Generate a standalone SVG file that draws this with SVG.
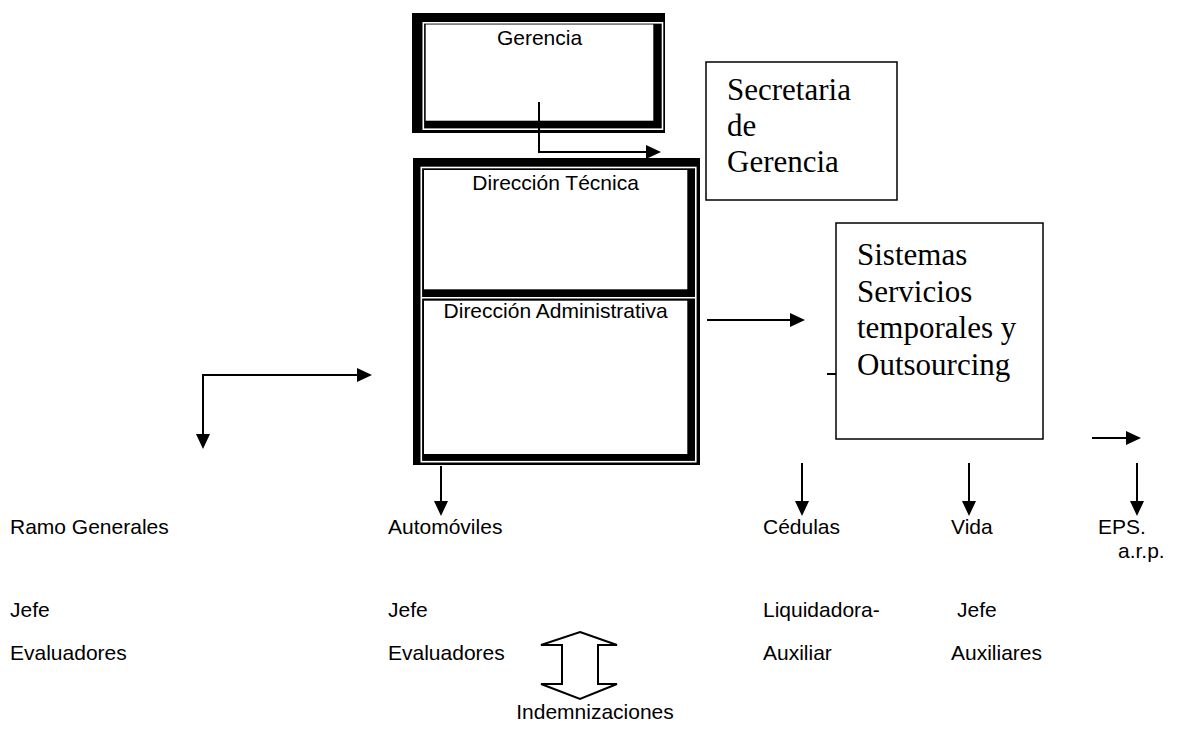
<svg xmlns="http://www.w3.org/2000/svg" width="1177" height="745" viewBox="0 0 1177 745">
<style>
.a{font-family:"Liberation Sans",Arial,sans-serif;font-size:21px;fill:#000}
.t{font-family:"Liberation Serif","Times New Roman",serif;font-size:31px;fill:#000}
.ln{stroke:#000;stroke-width:2;fill:none}
.gap{stroke:#fff;stroke-width:1.6;fill:none}
.box{stroke:#000;stroke-width:1.5;fill:#fff}
</style>
<defs>
<marker id="ah" viewBox="0 0 15 14" refX="12" refY="7" markerWidth="15" markerHeight="14" markerUnits="userSpaceOnUse" orient="auto">
<path d="M0,0 L15,7 L0,14 z" fill="#000"/>
</marker>
</defs>
<rect width="1177" height="745" fill="#fff"/>

<g id="gerencia">
<rect x="412" y="13" width="253" height="120" fill="#000"/>
<rect x="423.3" y="22.8" width="239.2" height="106.4" class="gap"/>
<rect x="425.7" y="24.5" width="227.6" height="96.2" fill="#fff"/>
<text x="539.5" y="45" text-anchor="middle" class="a">Gerencia</text>
</g>

<g id="direccion">
<rect x="413" y="158" width="287" height="307" fill="#000"/>
<rect x="421.3" y="167.5" width="274.5" height="294.2" class="gap"/>
<line x1="421.3" y1="297.7" x2="695.8" y2="297.7" class="gap"/>
<rect x="424" y="170" width="263.3" height="119.3" fill="#fff"/>
<rect x="424" y="300.7" width="263.3" height="153.3" fill="#fff"/>
<text x="555.6" y="190" text-anchor="middle" class="a">Dirección Técnica</text>
<text x="555.6" y="318" text-anchor="middle" class="a">Dirección Administrativa</text>
</g>

<g id="secretaria">
<rect x="706" y="62" width="191" height="138" class="box"/>
<text class="t"><tspan x="727" y="100">Secretaria</tspan><tspan x="727" y="136">de</tspan><tspan x="727" y="172">Gerencia</tspan></text>
</g>

<g id="sistemas">
<rect x="836" y="223" width="207" height="216" class="box"/>
<text class="t"><tspan x="857" y="265">Sistemas</tspan><tspan x="857" y="302">Servicios</tspan><tspan x="857" y="338">temporales y</tspan><tspan x="857" y="375">Outsourcing</tspan></text>
</g>

<g id="connectors">
<path d="M539,102 V152 H658" class="ln" marker-end="url(#ah)"/>
<path d="M203,376 V375 H369" class="ln" marker-end="url(#ah)"/>
<line x1="203" y1="374" x2="203" y2="446" class="ln" marker-end="url(#ah)"/>
<line x1="707" y1="320" x2="802" y2="320" class="ln" marker-end="url(#ah)"/>
<line x1="827" y1="374" x2="836" y2="374" class="ln"/>
<line x1="1092" y1="438" x2="1138" y2="438" class="ln" marker-end="url(#ah)"/>
<line x1="441" y1="466" x2="441" y2="513" class="ln" marker-end="url(#ah)"/>
<line x1="802" y1="463" x2="802" y2="513" class="ln" marker-end="url(#ah)"/>
<line x1="969" y1="463" x2="969" y2="513" class="ln" marker-end="url(#ah)"/>
<line x1="1137" y1="463" x2="1137" y2="513" class="ln" marker-end="url(#ah)"/>
<path d="M580,632 L617,645 H598 V684 H617 L580,699 L541,684 H562 V645 H541 Z" fill="#fff" stroke="#000" stroke-width="2" stroke-linejoin="miter"/>
</g>

<g id="labels">
<text class="a"><tspan x="10" y="534">Ramo Generales</tspan><tspan x="10" y="617">Jefe</tspan><tspan x="10" y="660">Evaluadores</tspan></text>
<text class="a"><tspan x="388" y="534">Automóviles</tspan><tspan x="388" y="617">Jefe</tspan><tspan x="388" y="660">Evaluadores</tspan></text>
<text class="a"><tspan x="763" y="534">Cédulas</tspan><tspan x="763" y="617">Liquidadora-</tspan><tspan x="763" y="660">Auxiliar</tspan></text>
<text class="a"><tspan x="951" y="534">Vida</tspan><tspan x="957" y="617">Jefe</tspan><tspan x="951" y="660">Auxiliares</tspan></text>
<text class="a"><tspan x="1098" y="534">EPS.</tspan><tspan x="1118" y="558">a.r.p.</tspan></text>
<text class="a" x="595" y="719" text-anchor="middle">Indemnizaciones</text>
</g>
</svg>
